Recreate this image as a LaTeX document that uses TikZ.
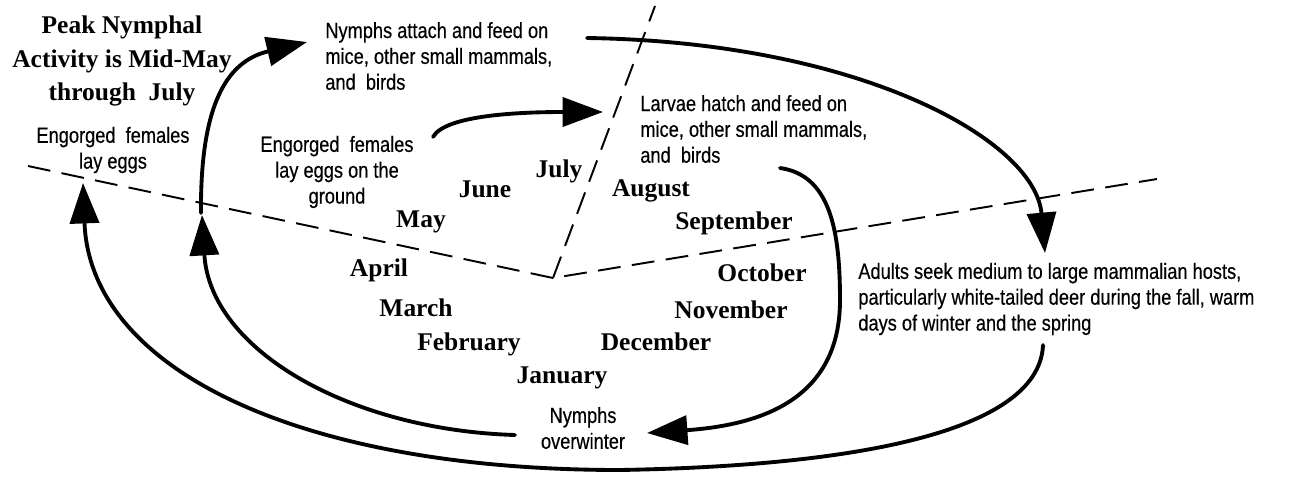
\documentclass[tikz,border=0pt]{standalone}
\usepackage{fontspec}
\setmainfont{Liberation Serif}
\newfontfamily\condfont[FakeStretch=0.83,FakeBold=0.4]{Liberation Sans}
\usetikzlibrary{arrows.meta}

\begin{document}
\begin{tikzpicture}[x=0.02cm,y=-0.02cm,>={Triangle[length=23pt,width=16.5pt]},
lbl/.style={font=\condfont\fontsize{12.5}{14.7}\selectfont, inner sep=0pt},
mon/.style={font=\fontsize{14.5}{17}\selectfont\bfseries, inner sep=0pt, anchor=base},
cyc/.style={line width=2.2pt, line cap=round, ->},
seas/.style={line width=1.1pt, dash pattern=on 13pt off 6.5pt}
]
\useasboundingbox (0,0) rectangle (1304,477);
% Season boundaries
\coordinate (vc) at (553,278);
\coordinate (vl) at (28,166);
\coordinate (vr) at (1157,179);
\coordinate (vt) at (655,6);
\draw[seas] (vl) -- (vc) -- (vr);
\draw[seas] (vc) -- (vt);
% Months
\node[mon] (jul) at (559,177) {July};
\node[mon] (jun) at (485,197) {June};
\node[mon] (may) at (421,227) {May};
\node[mon] (apr) at (379,276) {April};
\node[mon] (mar) at (416,316) {March};
\node[mon] (feb) at (469,350) {February};
\node[mon] (jan) at (562,383) {January};
\node[mon] (aug) at (651,196) {August};
\node[mon] (sep) at (734,229) {September};
\node[mon] (oct) at (762,281) {October};
\node[mon] (nov) at (731,318) {November};
\node[mon] (dec) at (656,350) {December};
% Stages
\node[font=\fontsize{14.5}{19}\selectfont\bfseries, align=center, inner sep=0pt] (peak) at (122,61)
  {Peak Nymphal\\Activity is Mid-May\\through~ July};
\node[lbl, align=center] (eggs1) at (113,150) {Engorged~ females\\lay eggs};
\node[lbl, align=center] (eggs2) at (337,172) {Engorged~ females\\lay eggs on the\\ground};
\node[lbl, align=left, anchor=west] (nymfeed) at (325,56)
  {Nymphs attach and feed on\\mice, other small mammals,\\and~ birds};
\node[lbl, align=left, anchor=west] (larfeed) at (640,129)
  {Larvae hatch and feed on\\mice, other small mammals,\\and~ birds};
\node[lbl, align=left, anchor=west] (adult) at (858,299)
  {Adults seek medium to large mammalian hosts,\\particularly white-tailed deer during the fall, warm\\days of winter and the spring};
\node[lbl, align=center] (winter) at (583,428) {Nymphs\\overwinter};
% Arrow ends
\coordinate (a1) at (1043,345);
\coordinate (a2) at (83,183);
\coordinate (b1) at (515,435);
\coordinate (b2) at (202,215);
\coordinate (c1) at (201,213);
\coordinate (c2) at (307,42);
\coordinate (d1) at (433,137);
\coordinate (d2) at (603,112);
\coordinate (e1) at (587,38);
\coordinate (e2) at (1045,253);
\coordinate (f1) at (780,168);
\coordinate (f2) at (647,433);
% Life cycle
\draw[cyc] (a1) .. controls (1040,420) and (900,465) .. (620,470)
  .. controls (300,470) and (90,370) .. (a2);
\draw[cyc] (b1) .. controls (350,430) and (210,350) .. (b2);
\draw[cyc] (c1) .. controls (200,95) and (232,60) .. (c2);
\draw[cyc] (d1) .. controls (445,115) and (520,112) .. (d2);
\draw[cyc] (e1) .. controls (860,42) and (1035,140) .. (e2);
\draw[cyc] (f1) .. controls (830,175) and (840,230) .. (840,300)
  .. controls (840,400) and (760,425) .. (f2);
\end{tikzpicture}
\end{document}
